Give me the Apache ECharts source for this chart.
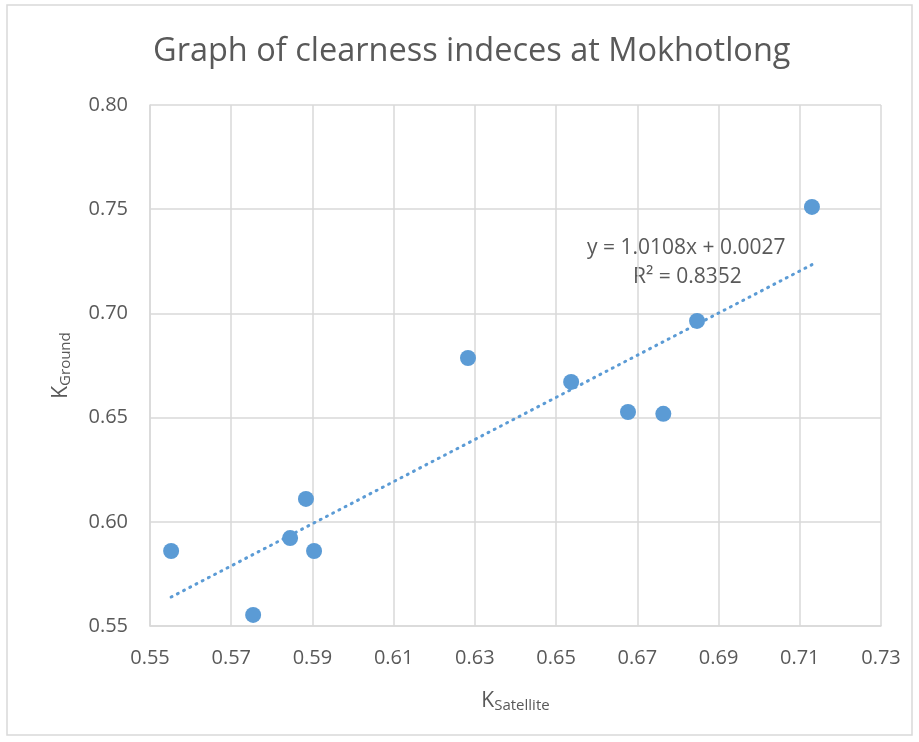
<!DOCTYPE html>
<html>
<head>
<meta charset="utf-8">
<script src="https://cdn.jsdelivr.net/npm/echarts@6/dist/echarts.min.js"></script>
<style>
  html, body { margin: 0; padding: 0; background: #fff; }
  #chart { width: 919px; height: 742px; }
</style>
</head>
<body>
<div id="chart"></div>
<script>
// 数据
const kSatellite = [0.5552, 0.5754, 0.5845, 0.5884, 0.5904, 0.6283, 0.6537, 0.6677, 0.6764, 0.6847, 0.7130];
const kGround = [0.586, 0.5553, 0.5922, 0.611, 0.586, 0.6786, 0.6671, 0.6527, 0.6518, 0.6964, 0.7511];
const slope = 1.0108;
const intercept = 0.0027;
const xTicks = [0.55, 0.57, 0.59, 0.61, 0.63, 0.65, 0.67, 0.69, 0.71, 0.73];
const yTicks = [0.55, 0.60, 0.65, 0.70, 0.75, 0.80];

const points = kSatellite.map((x, i) => [x, kGround[i]]);
const xMin = Math.min(...kSatellite);
const xMax = Math.max(...kSatellite);
const trend = [[xMin, slope * xMin + intercept], [xMax, slope * xMax + intercept]];

const textColor = "#595959";
const gridColor = "#d9d9d9";
const blue = "#5b9bd5";
const font = "'Open Sans', sans-serif";

const nameRich = {
  k: { fontSize: 21, color: textColor, fontFamily: font },
  s: { fontSize: 15, color: textColor, fontFamily: font, verticalAlign: "bottom", padding: [9, 0, 0, 0] },
};

const chart = echarts.init(document.getElementById("chart"));
chart.setOption({
  animation: false,
  backgroundColor: "#fff",
  title: {
    text: "Graph of clearness indeces at Mokhotlong",
    left: 148,
    top: 30,
    textStyle: { color: textColor, fontSize: 32.5, fontWeight: "normal", fontFamily: font },
  },
  graphic: [
    {
      type: "rect",
      shape: { x: 7, y: 5, width: 905, height: 730 },
      style: { fill: "none", stroke: gridColor, lineWidth: 1.5 },
      silent: true,
    },
    {
      type: "text",
      left: 587,
      top: 238,
      style: { text: "y = 1.0108x + 0.0027", fill: textColor, fontSize: 21, fontFamily: font },
    },
    {
      type: "text",
      left: 633,
      top: 267,
      style: { text: "R² = 0.8352", fill: textColor, fontSize: 21, fontFamily: font },
    },
  ],
  grid: { left: 150, right: 38, top: 105, bottom: 116 },
  xAxis: {
    type: "value",
    min: xTicks[0],
    max: xTicks[xTicks.length - 1],
    interval: 0.02,
    name: "{k|K}{s|Satellite}",
    nameLocation: "middle",
    nameGap: 63,
    nameTextStyle: { rich: nameRich },
    axisLine: { show: true, lineStyle: { color: gridColor, width: 1.5 } },
    axisTick: { show: false },
    splitLine: { show: true, lineStyle: { color: gridColor, width: 1.5 } },
    axisLabel: { color: textColor, fontSize: 20, fontFamily: font, margin: 22, formatter: (v) => v.toFixed(2) },
  },
  yAxis: {
    type: "value",
    min: yTicks[0],
    max: yTicks[yTicks.length - 1],
    interval: 0.05,
    name: "{k|K}{s|Ground}",
    nameLocation: "middle",
    nameRotate: 90,
    nameGap: 77,
    nameTextStyle: { rich: nameRich },
    axisLine: { show: true, lineStyle: { color: gridColor, width: 1.5 } },
    axisTick: { show: false },
    splitLine: { show: true, lineStyle: { color: gridColor, width: 1.5 } },
    axisLabel: { color: textColor, fontSize: 20, fontFamily: font, margin: 22, formatter: (v) => v.toFixed(2) },
  },
  series: [
    {
      name: "Trend",
      type: "line",
      data: trend,
      symbol: "none",
      lineStyle: { color: blue, width: 3, type: [1, 6], cap: "round" },
      z: 2,
    },
    {
      name: "K",
      type: "scatter",
      data: points,
      symbol: "circle",
      symbolSize: 16,
      itemStyle: { color: blue, opacity: 1 },
      z: 3,
    },
  ],
});
</script>
</body>
</html>
